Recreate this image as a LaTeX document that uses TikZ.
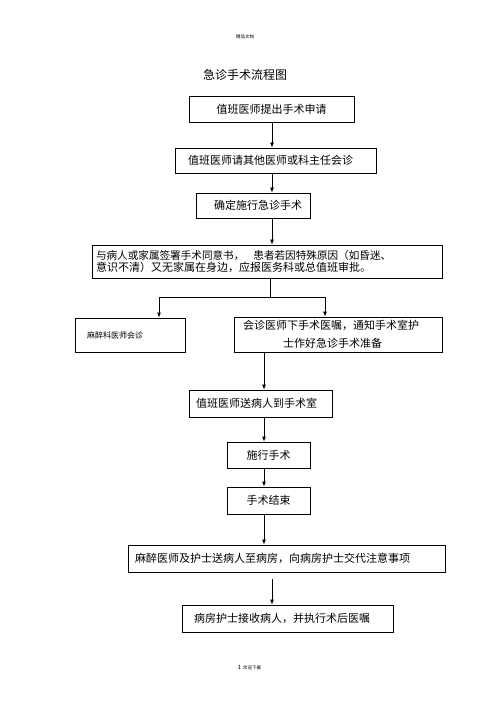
\documentclass[tikz,border=0pt]{standalone}
\usepackage{fontspec}
\newfontfamily\cjk{Noto Sans CJK SC}
\usetikzlibrary{arrows.meta}
\begin{document}
\begin{tikzpicture}[x=1pt,y=-1pt,
  box/.style={draw=black, line width=0.8pt, rectangle, inner sep=0pt, align=left,
    font=\cjk\fontsize{11}{13}\selectfont},
  arr/.style={-{Latex[length=5pt,width=4pt]}, line width=0.8pt},
  ln/.style={line width=0.8pt},
  small/.style={font=\cjk\fontsize{4.5}{5}\selectfont, inner sep=0pt}]
\useasboundingbox (0,0) rectangle (500,708);
\fill[white] (0,0) rectangle (500,708);

\node[small] (hdr) at (245,37) {精品文档};
\node[font=\cjk\fontsize{12}{14}\selectfont, inner sep=0pt] (title) at (245,75) {急诊手术流程图};

\node[box, minimum width=165, minimum height=26, text width=165, align=center] (b1) at (271.5,109) {值班医师提出手术申请};
\node[box, minimum width=201, minimum height=25, text width=201] (b2) at (275.5,160.5) {\hspace*{13pt}值班医师请其他医师或科主任会诊};
\node[box, minimum width=114, minimum height=25, text width=114] (b3) at (253,205.5) {\hspace*{18pt}确定施行急诊手术};
\node[box, minimum width=350, minimum height=33, text width=350, font=\cjk\fontsize{10.6}{11.8}\selectfont] (b4) at (267,261.5)
  {\hspace*{4pt}与病人或家属签署手术同意书，\hspace{9pt}患者若因特殊原因（如昏迷、\\\hspace*{4pt}{\fontsize{11}{11.8}\selectfont 意识不清）又无家属在身边，应报医务科或总值班审批。}};
\node[box, minimum width=110, minimum height=34, text width=110, font=\cjk\fontsize{8}{9}\selectfont] (b5l) at (130,335) {\hspace*{12pt}麻醉科医师会诊};
\node[box, minimum width=208, minimum height=35, text width=208, font=\cjk\fontsize{11}{18}\selectfont] (b5r) at (338,334.5)
  {\hspace*{9pt}会诊医师下手术医嘱，通知手术室护\\\hspace*{49pt}士作好急诊手术准备};
\node[box, minimum width=143, minimum height=27, text width=143] (b6) at (260.5,403.5) {\hspace*{7pt}值班医师送病人到手术室};
\node[box, minimum width=83, minimum height=26, text width=83, align=center] (b7) at (268.5,455) {施行手术};
\node[box, minimum width=83, minimum height=27, text width=83, align=center] (b8) at (268.5,500.5) {手术结束};
\node[box, minimum width=317, minimum height=27, text width=317] (b9) at (286.5,558.5) {\hspace*{7pt}麻醉医师及护士送病人至病房，向病房护士交代注意事项};
\node[box, minimum width=211, minimum height=27, text width=211] (b10) at (287.5,618.5) {\hspace*{12pt}病房护士接收病人，并执行术后医嘱};

\node[font=\cjk\fontsize{6}{7}\selectfont, inner sep=0pt] (pg) at (239.5,667.5) {1};
\node[small, anchor=west] (ftr) at (243,668) {欢迎下载};

\coordinate (xa) at (264,0);
\coordinate (xb) at (272,0);
\coordinate (split) at (270,297);
\coordinate (sl) at (159,297);
\coordinate (sr) at (325,297);
\coordinate (g) at (272,579);

\draw[arr] (xb |- b1.south) -- (xb |- b2.north);
\draw[arr] (xb |- b2.south) -- (xb |- b3.north);
\draw[arr] (xb |- b3.south) -- (xb |- b4.north);
\draw[ln] (split |- b4.south) -- (split);
\draw[ln] (sl) -- (sr);
\draw[arr] (sl) -- (sl |- b5l.north);
\draw[arr] (sr) -- (sr |- b5r.north);
\draw[arr] (xa |- b5r.south) -- (xa |- b6.north);
\draw[arr] (xa |- b6.south) -- (xa |- b7.north);
\draw[arr] (xa |- b7.south) -- (xa |- b8.north);
\draw[arr] (xa |- b8.south) -- (xa |- b9.north);
\draw[arr] (g) -- (g |- b10.north);
\end{tikzpicture}
\end{document}
